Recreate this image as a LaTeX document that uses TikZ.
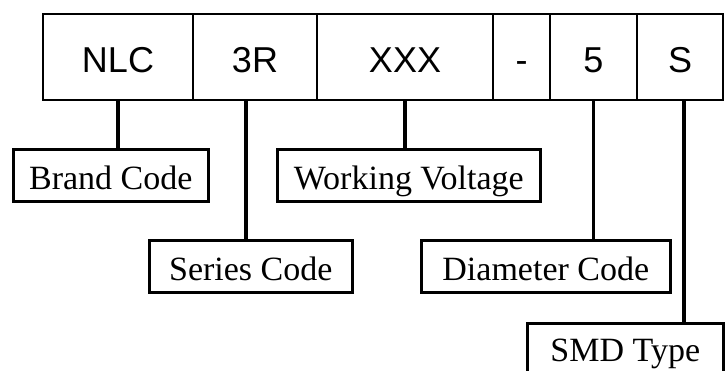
\documentclass[tikz,border=0pt]{standalone}
\usepackage{fontspec}
\newfontfamily\sansA{Liberation Sans}
\newfontfamily\serifA{Liberation Serif}
\begin{document}
\begin{tikzpicture}[x=1pt,y=-1pt,
  cell/.style={draw, line width=2pt, minimum height=86pt, anchor=north west, inner sep=0pt,
    text height=30pt, text depth=0pt, font=\sansA\fontsize{36}{40}\selectfont},
  lab/.style={draw, line width=2.6pt, anchor=north west, inner sep=0pt, minimum height=52pt,
    text height=28pt, text depth=0pt, font=\serifA\fontsize{34}{38}\selectfont},
  conn/.style={line width=3.2pt}]
\useasboundingbox (0,0) rectangle (725,370);
\clip (0,0) rectangle (725,370);
% code cells
\node[cell, minimum width=150pt] (nlc) at (42,13) {NLC};
\node[cell, minimum width=124pt] (c3r) at (192,13) {3R};
\node[cell, minimum width=176pt] (xxx) at (316,13) {XXX};
\node[cell, minimum width=57pt] (dash) at (492,13) {-};
\node[cell, minimum width=87pt] (five) at (549,13) {5};
\node[cell, minimum width=86pt] (ess) at (636,13) {S};
% labels
\node[lab, minimum width=195pt] (brand) at (12,148) {Brand Code};
\node[lab, minimum width=203pt] (series) at (148,239) {Series Code};
\node[lab, minimum width=263pt] (work) at (276,148) {Working Voltage};
\node[lab, minimum width=249pt] (diam) at (420,239) {Diameter Code};
\node[lab, minimum width=196pt, minimum height=60pt, text height=16pt] (smd) at (526,322) {SMD Type};
% connectors
\path (c3r.south west) ++(54,0) coordinate (k2);
\path (ess.south west) ++(48,0) coordinate (k6);
\draw[conn] (nlc.south) -- (nlc.south |- brand.north);
\draw[conn] (k2) -- (k2 |- series.north);
\draw[conn] (xxx.south) -- (xxx.south |- work.north);
\draw[conn] (five.south) -- (five.south |- diam.north);
\draw[conn] (k6) -- (k6 |- smd.north);
\end{tikzpicture}
\end{document}
